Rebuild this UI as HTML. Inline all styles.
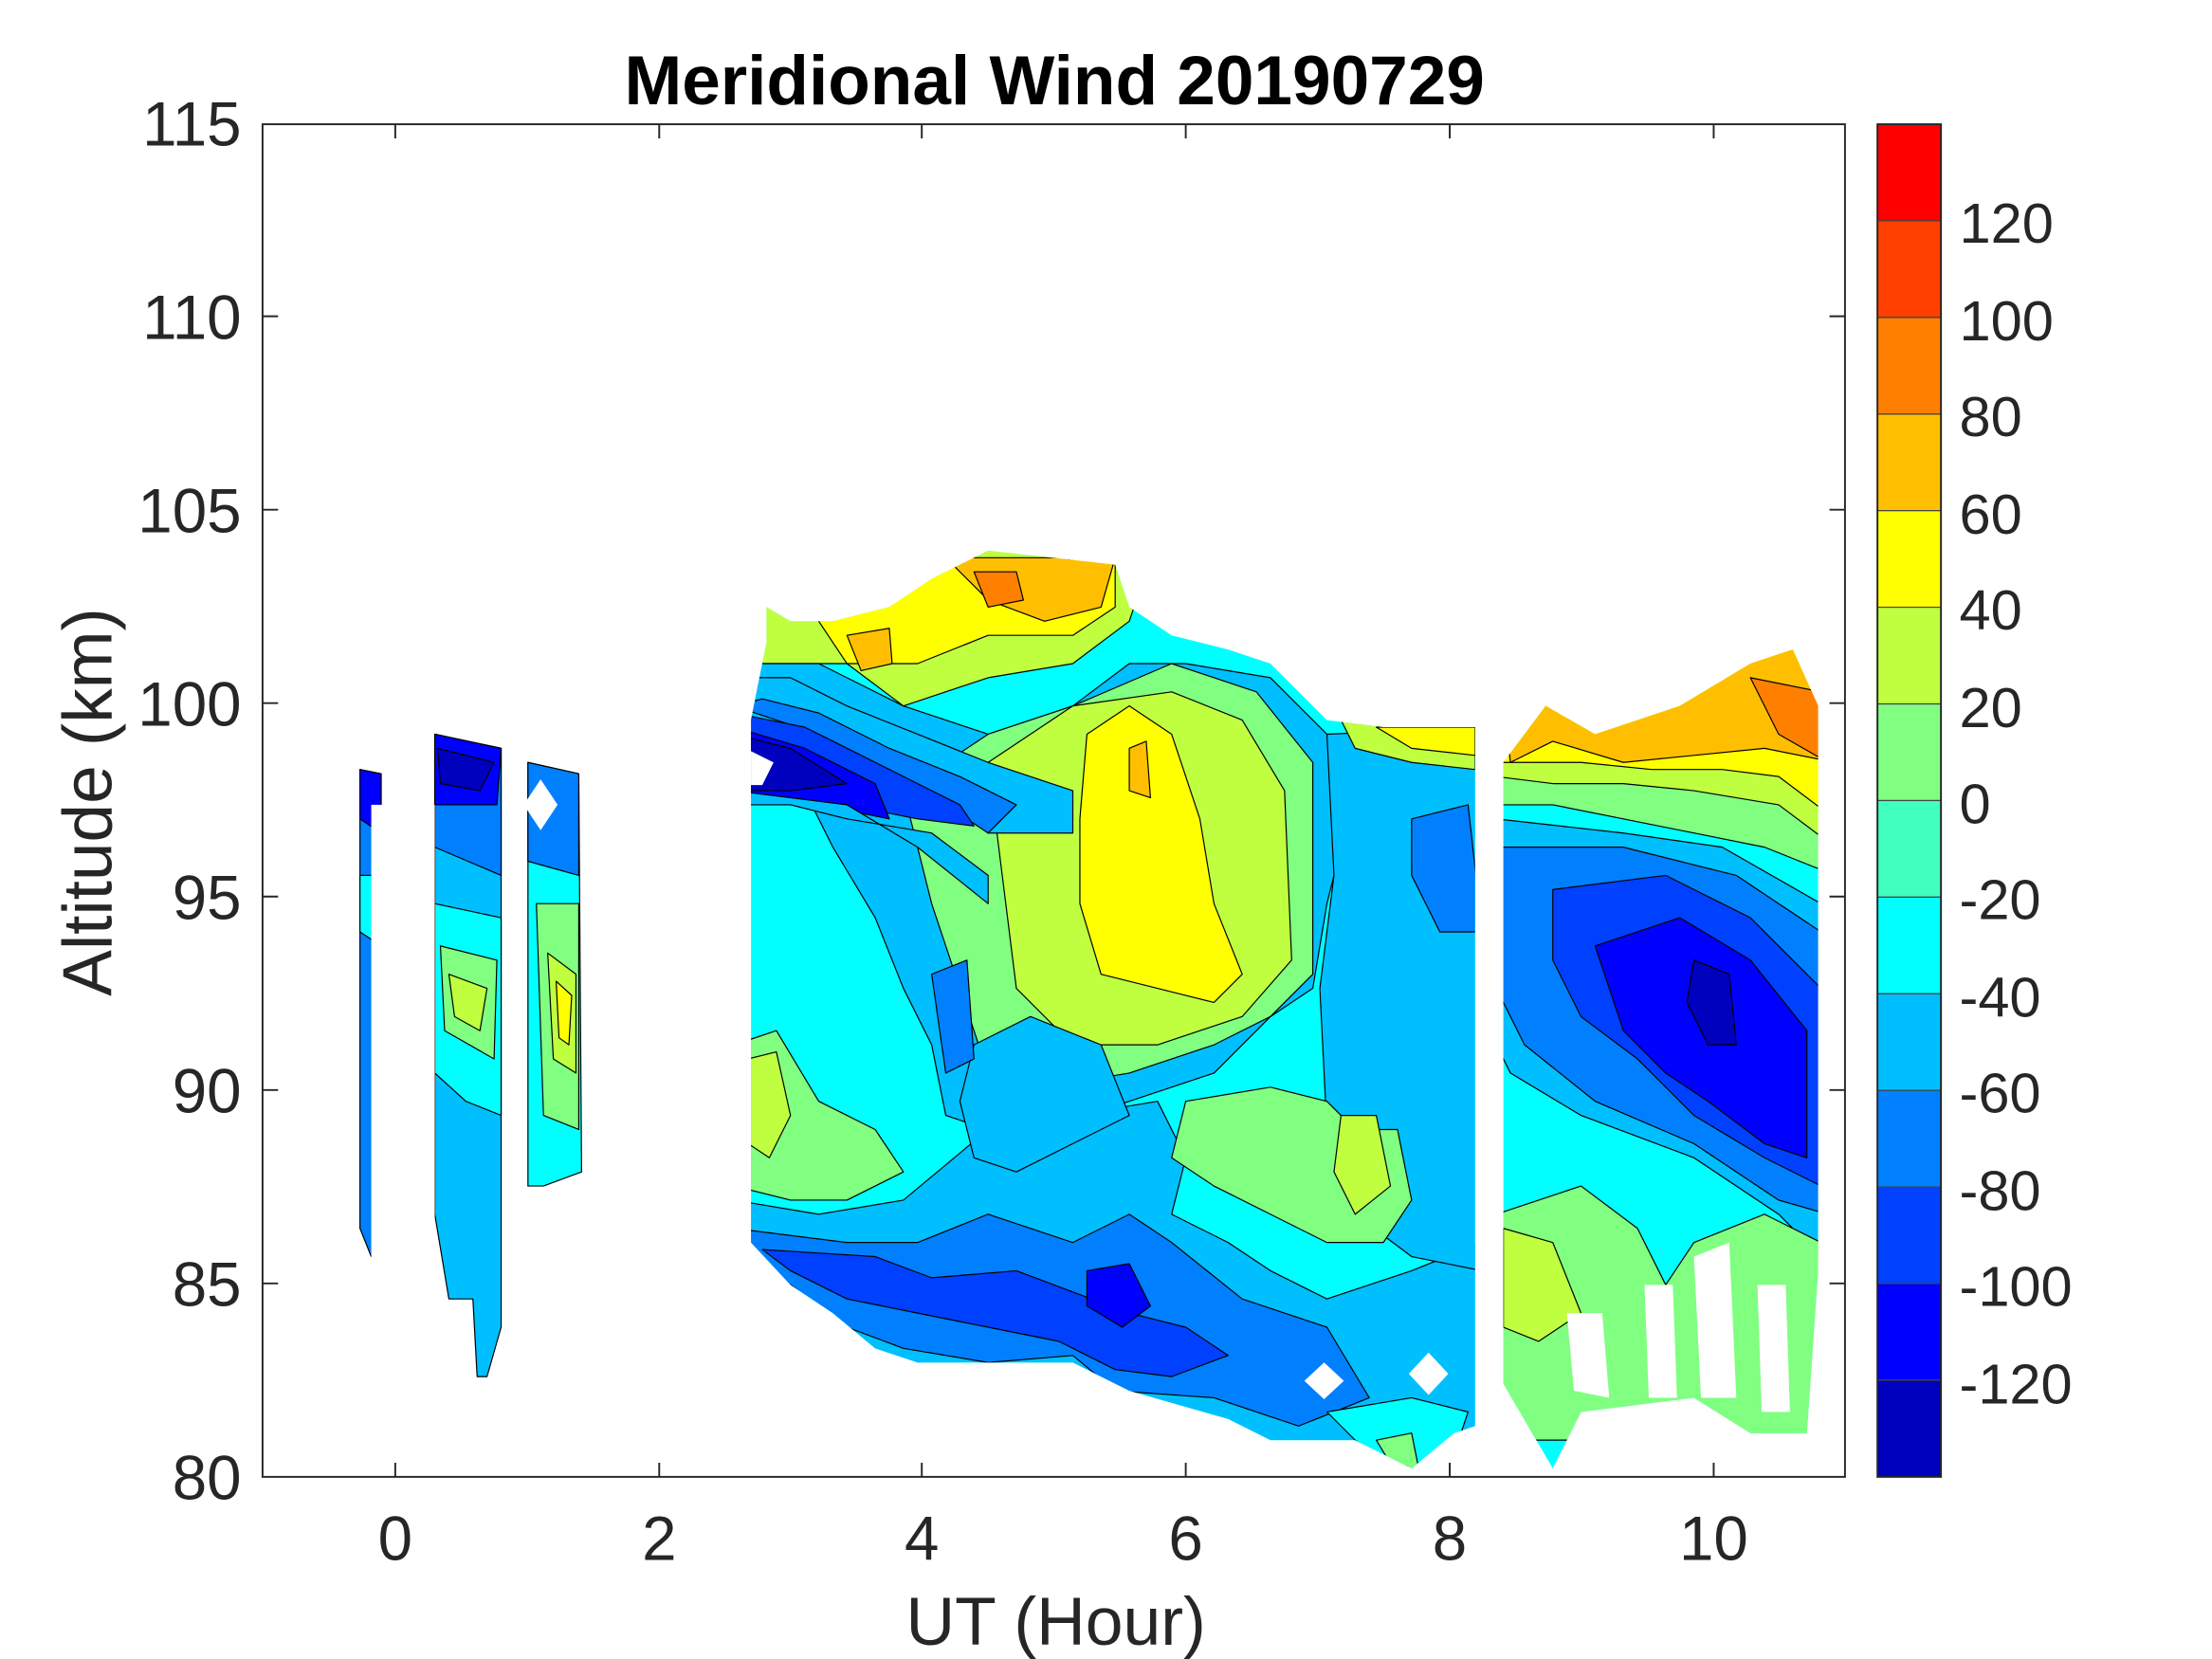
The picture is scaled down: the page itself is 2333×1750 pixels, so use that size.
<!DOCTYPE html>
<html><head><meta charset="utf-8"><style>
html,body{margin:0;padding:0;background:#fff;}
svg{display:block;}
text{font-family:"Liberation Sans",sans-serif;fill:#262626;}
</style></head><body>
<svg width="2333" height="1750" viewBox="0 0 1567 1175" preserveAspectRatio="none" xmlns="http://www.w3.org/2000/svg">
<rect x="0" y="0" width="1567" height="1175" fill="#fff"/>
<defs>
<clipPath id="mainc"><polygon points="543,455 543,430 560,440 590,440 630,430 660,410 700,390 790,400 800,430 830,450 870,460 900,470 940,510 980,515 1045,515 1045,1010 1030,1015 1000,1040 980,1030 960,1020 900,1020 870,1005 800,985 760,965 700,965 650,965 620,955 590,930 560,910 532,880 532,510"/></clipPath>
<clipPath id="c2"><polygon points="1065,540 1095,500 1130,520 1190,500 1240,470 1270,460 1288,500 1288,900 1280,1015 1240,1015 1200,990 1160,995 1120,1000 1100,1040 1065,980"/></clipPath>
</defs>
<g stroke="#000" stroke-width="0.8" stroke-linejoin="round">
<g clip-path="url(#mainc)">
<rect x="520" y="380" width="540" height="670" fill="#00FFFF"/>
<polygon points="520,380 820,380 800,440 760,470 700,480 640,500 600,470 560,470 520,470" fill="#BFFF40"/>
<polygon points="580,440 620,420 660,400 790,395 790,430 760,450 700,450 650,470 600,470" fill="#FFFF00"/>
<polygon points="670,395 790,395 780,430 740,440 700,425" fill="#FFBF00"/>
<polygon points="600,450 630,445 632,470 610,475" fill="#FFBF00"/>
<polygon points="690,405 720,405 725,425 700,430" fill="#FF8000"/>
<polygon points="520,470 580,470 640,500 700,520 760,500 800,470 840,470 900,480 940,520 960,560 940,640 930,700 900,720 860,760 800,780 740,800 700,800 670,790 660,740 640,700 620,650 590,600 560,540 520,520" fill="#00BFFF"/>
<polygon points="640,560 700,520 760,500 830,470 890,490 930,540 930,690 900,720 860,740 800,760 740,770 700,760 680,700 660,640" fill="#80FF80"/>
<polygon points="700,540 760,500 830,490 880,510 910,560 915,680 880,720 820,740 760,740 720,700 710,620" fill="#BFFF40"/>
<polygon points="770,520 800,500 830,520 850,580 860,640 880,690 860,710 820,700 780,690 765,640 765,580" fill="#FFFF00"/>
<polygon points="800,530 812,525 815,565 800,560" fill="#FFBF00"/>
<polygon points="520,500 600,520 660,560 700,590 760,590 760,560 700,540 650,520 600,500 560,480 520,480" fill="#00BFFF"/>
<polygon points="520,500 580,520 640,550 700,590 720,570 680,550 630,530 580,505 540,495" fill="#0080FF"/>
<polygon points="520,505 570,515 620,540 680,570 690,585 650,580 600,570 560,560 520,560" fill="#0040FF"/>
<polygon points="520,515 570,530 620,555 630,580 580,570 540,565 520,565" fill="#0000FF"/>
<polygon points="520,520 560,530 600,555 560,560 520,560" fill="#0000BF"/>
<polygon points="520,560 600,570 650,600 700,640 700,620 660,590 600,580 560,570 520,570" fill="#00BFFF"/>
<polygon points="520,740 550,730 580,780 620,800 640,830 600,850 560,850 520,840" fill="#80FF80"/>
<polygon points="530,750 550,745 560,790 545,820 530,810" fill="#BFFF40"/>
<polygon points="520,850 580,860 640,850 700,800 760,790 820,780 840,820 830,860 870,880 900,900 940,920 1000,900 1050,880 1050,1050 520,1050" fill="#00BFFF"/>
<polygon points="520,870 600,880 650,880 700,860 760,880 800,860 830,880 880,920 940,940 970,990 920,1010 860,990 790,985 760,960 700,965 640,955 600,940 560,910 520,900" fill="#0080FF"/>
<polygon points="540,885 620,890 660,905 720,900 760,915 800,930 840,940 870,960 830,975 790,970 750,950 700,940 650,930 600,920 560,900" fill="#0040FF"/>
<polygon points="770,900 800,895 815,925 795,940 770,925" fill="#0000FF"/>
<polygon points="690,740 730,720 780,740 800,790 760,810 720,830 690,820 680,780" fill="#00BFFF"/>
<polygon points="660,690 685,680 690,750 670,760" fill="#0080FF"/>
<polygon points="940,520 1050,515 1050,900 1000,890 960,860 940,800 935,700 945,620" fill="#00BFFF"/>
<polygon points="1000,580 1040,570 1050,660 1020,660 1000,620" fill="#0080FF"/>
<polygon points="840,780 900,770 940,780 960,800 990,800 1000,850 980,880 940,880 900,860 860,840 830,820" fill="#80FF80"/>
<polygon points="950,790 975,790 985,840 960,860 945,830" fill="#BFFF40"/>
<polygon points="950,510 1045,515 1045,545 1000,540 960,530" fill="#BFFF40"/>
<polygon points="975,515 1045,515 1045,535 1000,530" fill="#FFFF00"/>
<polygon points="940,1000 1000,990 1040,1000 1030,1030 990,1040 960,1020" fill="#00FFFF"/>
<polygon points="975,1020 1000,1015 1005,1040 990,1045" fill="#80FF80"/>
</g>
<g clip-path="url(#c2)">
<rect x="1060" y="450" width="240" height="600" fill="#00FFFF"/>
<polygon points="1060,450 1300,450 1300,620 1250,600 1200,590 1150,580 1100,570 1060,570" fill="#80FF80"/>
<polygon points="1060,450 1300,450 1300,600 1260,570 1200,560 1150,555 1100,555 1060,550" fill="#BFFF40"/>
<polygon points="1060,450 1300,450 1300,580 1260,550 1220,545 1170,545 1120,540 1060,540" fill="#FFFF00"/>
<polygon points="1060,450 1300,450 1300,540 1250,530 1200,535 1150,540 1100,525 1070,540" fill="#FFBF00"/>
<polygon points="1240,480 1290,490 1295,540 1260,520" fill="#FF8000"/>
<polygon points="1060,580 1150,590 1220,600 1290,640 1300,900 1260,860 1200,820 1120,790 1070,760 1060,740" fill="#00BFFF"/>
<polygon points="1060,600 1150,600 1230,620 1290,660 1295,860 1260,850 1200,810 1130,780 1080,740 1060,700" fill="#0080FF"/>
<polygon points="1100,630 1180,620 1240,650 1290,700 1290,840 1250,820 1200,790 1160,750 1120,720 1100,680" fill="#0040FF"/>
<polygon points="1130,670 1190,650 1240,680 1280,730 1280,820 1250,810 1210,780 1180,760 1150,730" fill="#0000FF"/>
<polygon points="1200,680 1225,690 1230,740 1210,740 1195,710" fill="#0000BF"/>
<polygon points="1060,860 1120,840 1160,870 1180,910 1200,880 1250,860 1290,880 1290,1020 1060,1020" fill="#80FF80"/>
<polygon points="1065,870 1100,880 1120,930 1090,950 1065,940" fill="#BFFF40"/>
<polygon points="1110,930 1135,930 1140,990 1115,985" fill="#ffffff" stroke="none"/>
<polygon points="1165,910 1185,910 1188,990 1168,990" fill="#ffffff" stroke="none"/>
<polygon points="1200,890 1225,880 1230,990 1205,990" fill="#ffffff" stroke="none"/>
<polygon points="1245,910 1265,910 1268,1000 1248,1000" fill="#ffffff" stroke="none"/>
</g>
<polygon points="255,545 270,548 270,890 263,890 255,870" fill="#0080FF"/>
<polygon points="255,545 270,548 270,590 255,580" fill="#0000FF"/>
<polygon points="255,620 270,620 270,670 255,660" fill="#00FFFF"/>
<polygon points="308,520 355,530 355,940 345,975 338,975 335,920 318,920 308,860" fill="#00BFFF"/>
<polygon points="308,520 355,530 355,620 308,600" fill="#0080FF"/>
<polygon points="308,520 355,530 352,570 308,570" fill="#0000FF"/>
<polygon points="310,530 350,540 340,560 312,555" fill="#0000BF"/>
<polygon points="308,640 355,650 355,790 330,780 308,760" fill="#00FFFF"/>
<polygon points="312,670 352,680 350,750 315,730" fill="#80FF80"/>
<polygon points="318,690 345,700 340,730 322,720" fill="#BFFF40"/>
<polygon points="374,540 410,548 412,830 385,840 374,840" fill="#00FFFF"/>
<polygon points="374,540 410,548 410,620 374,610" fill="#0080FF"/>
<polygon points="380,640 410,640 410,800 385,790" fill="#80FF80"/>
<polygon points="388,675 408,690 408,760 392,750" fill="#BFFF40"/>
<polygon points="394,695 405,705 403,740 396,735" fill="#FFFF00"/>
<rect x="263" y="570" width="45" height="330" fill="#fff" stroke="none"/>
<rect x="356" y="500" width="16" height="480" fill="#fff" stroke="none"/>
<polygon points="383,552 395,570 383,588 371,570" fill="#fff" stroke="none"/>
<polygon points="1046,500 1064,500 1064,1050 1046,1050" fill="#fff" stroke="none"/>
<polygon points="938,965 952,978 938,991 924,978" fill="#fff" stroke="none"/>
<polygon points="1012,958 1026,973 1012,988 998,973" fill="#fff" stroke="none"/>
<polygon points="532,532 548,540 540,556 532,556" fill="#fff" stroke="none"/>
</g>
<g stroke="#262626" stroke-width="1.3" fill="none">
<rect x="186" y="88" width="1121" height="958"/>
<path d="M280,1046v-10M467,1046v-10M653,1046v-10M840,1046v-10M1027,1046v-10M1214,1046v-10M280,88v10M467,88v10M653,88v10M840,88v10M1027,88v10M1214,88v10"/>
<path d="M186,909h11M186,772h11M186,635h11M186,498h11M186,361h11M186,224h11M1307,909h-11M1307,772h-11M1307,635h-11M1307,498h-11M1307,361h-11M1307,224h-11"/>
</g>
<g stroke="#444" stroke-width="0.8">
<rect x="1330" y="88" width="45" height="68.4" fill="#FF0000"/>
<rect x="1330" y="156.4" width="45" height="68.4" fill="#FF4000"/>
<rect x="1330" y="224.9" width="45" height="68.4" fill="#FF8000"/>
<rect x="1330" y="293.3" width="45" height="68.4" fill="#FFBF00"/>
<rect x="1330" y="361.7" width="45" height="68.4" fill="#FFFF00"/>
<rect x="1330" y="430.1" width="45" height="68.4" fill="#BFFF40"/>
<rect x="1330" y="498.6" width="45" height="68.4" fill="#80FF80"/>
<rect x="1330" y="567" width="45" height="68.4" fill="#40FFBF"/>
<rect x="1330" y="635.4" width="45" height="68.4" fill="#00FFFF"/>
<rect x="1330" y="703.9" width="45" height="68.4" fill="#00BFFF"/>
<rect x="1330" y="772.3" width="45" height="68.4" fill="#0080FF"/>
<rect x="1330" y="840.7" width="45" height="68.4" fill="#0040FF"/>
<rect x="1330" y="909.1" width="45" height="68.4" fill="#0000FF"/>
<rect x="1330" y="977.6" width="45" height="68.4" fill="#0000BF"/>
</g>
<rect x="1330" y="88" width="45" height="958" fill="none" stroke="#262626" stroke-width="1.3"/>
<text x="747" y="74" font-size="49" font-weight="bold" text-anchor="middle" style="fill:#000">Meridional Wind 20190729</text>
<g font-size="44" text-anchor="end">
<text x="171" y="1062">80</text><text x="171" y="925">85</text><text x="171" y="788">90</text>
<text x="171" y="651">95</text><text x="171" y="514">100</text><text x="171" y="377">105</text>
<text x="171" y="240">110</text><text x="171" y="103">115</text>
</g>
<g font-size="44" text-anchor="middle">
<text x="280" y="1105">0</text><text x="467" y="1105">2</text><text x="653" y="1105">4</text>
<text x="840" y="1105">6</text><text x="1027" y="1105">8</text><text x="1214" y="1105">10</text>
</g>
<text x="748" y="1165" font-size="48" text-anchor="middle">UT (Hour)</text>
<text transform="translate(79,568) rotate(-90)" font-size="49" text-anchor="middle">Altitude (km)</text>
<g font-size="40">
<text x="1388" y="172">120</text><text x="1388" y="241">100</text><text x="1388" y="309">80</text>
<text x="1388" y="378">60</text><text x="1388" y="446">40</text><text x="1388" y="515">20</text>
<text x="1388" y="583">0</text><text x="1388" y="651">-20</text><text x="1388" y="720">-40</text>
<text x="1388" y="788">-60</text><text x="1388" y="857">-80</text><text x="1388" y="925">-100</text>
<text x="1388" y="994">-120</text>
</g>
</svg>
</body></html>
